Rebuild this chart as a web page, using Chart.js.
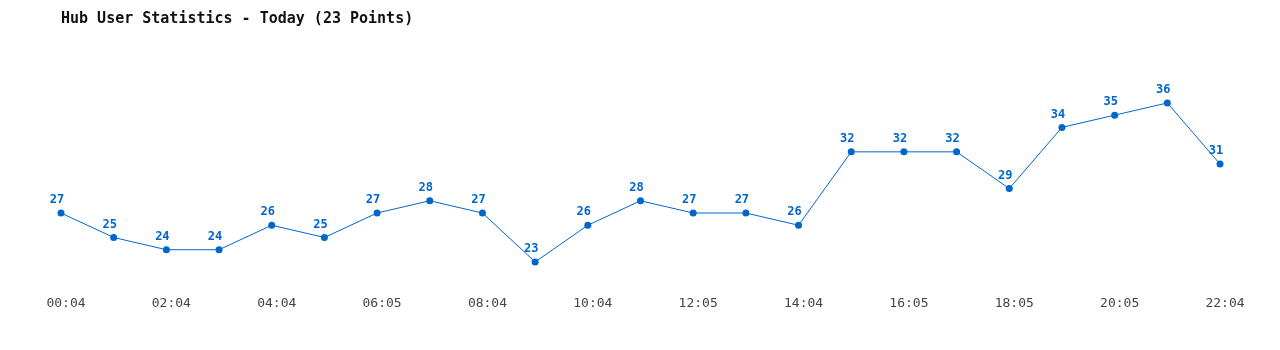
<!DOCTYPE html>
<html>
<head>
<meta charset="utf-8">
<script src="https://cdn.jsdelivr.net/npm/chart.js@4/dist/chart.umd.min.js"></script>
<style>
  html, body { margin: 0; padding: 0; background: #fff; }
  #wrap { width: 1280px; height: 350px; }
</style>
</head>
<body>
<div id="wrap"><canvas id="hubChart"></canvas></div>
<script>
const times = ['00:04', '01:04', '02:04', '03:04', '04:04', '05:04', '06:05', '07:05', '08:04', '09:04', '10:04', '11:04',
  '12:05', '13:05', '14:04', '15:04', '16:05', '17:05', '18:05', '19:05', '20:05', '21:05', '22:04'];
const users = [27, 25, 24, 24, 26, 25, 27, 28, 27, 23, 26, 28, 27, 27, 26, 32, 32, 32, 29, 34, 35, 36, 31];
const titleText = 'Hub User Statistics - Today (23 Points)';

const blue = '#0066cc';
const mono = "'DejaVu Sans Mono', 'Liberation Mono', monospace";

// numbers drawn above each point
const pointValues = {
  id: 'pointValues',
  afterDatasetsDraw(chart) {
    const ctx = chart.ctx;
    const meta = chart.getDatasetMeta(0);
    ctx.save();
    ctx.font = 'bold 12px ' + mono;
    ctx.fillStyle = blue;
    ctx.textAlign = 'center';
    ctx.textBaseline = 'middle';
    meta.data.forEach((pt, i) => {
      ctx.fillText(String(users[i]), pt.x - 4, pt.y - 13);
    });
    ctx.restore();
  }
};

new Chart(document.getElementById('hubChart').getContext('2d'), {
  type: 'line',
  data: {
    labels: times,
    datasets: [{
      data: users,
      borderColor: blue,
      backgroundColor: blue,
      borderWidth: 1,
      pointRadius: 3.5,
      pointBackgroundColor: blue,
      pointBorderWidth: 0,
      tension: 0
    }]
  },
  options: {
    responsive: true,
    maintainAspectRatio: false,
    animation: false,
    layout: { padding: { left: 61, right: 60, top: 0, bottom: 38 } },
    plugins: {
      legend: { display: false },
      tooltip: { enabled: false },
      title: {
        display: true,
        text: titleText,
        align: 'start',
        color: '#111',
        font: { family: mono, size: 15, weight: 'bold' },
        padding: { top: 10, bottom: 26 }
      }
    },
    scales: {
      x: {
        offset: false,
        grid: { display: false },
        border: { display: false },
        ticks: {
          autoSkip: false,
          maxRotation: 0,
          padding: 1,
          labelOffset: 5,
          color: '#444',
          font: { family: mono, size: 13 },
          callback: (v, i) => (i % 2 === 0 ? times[i] : '')
        }
      },
      y: {
        display: false,
        min: 21,
        max: 40
      }
    }
  },
  plugins: [pointValues]
});
</script>
</body>
</html>
